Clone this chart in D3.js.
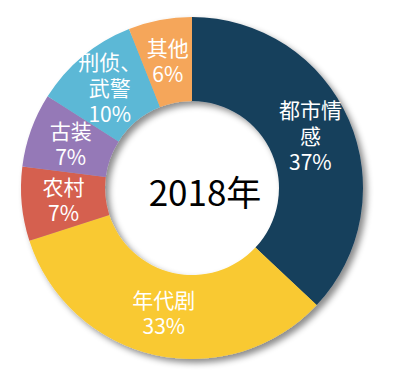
<!DOCTYPE html>
<html>
<head>
<meta charset="utf-8">
<script src="https://cdn.jsdelivr.net/npm/d3@7"></script>
<style>
  body { margin: 0; background: #fff; }
  text { font-family: "Noto Sans CJK SC", "Noto Sans", sans-serif; }
</style>
</head>
<body>
<div id="chart"></div>
<script>
const width = 417;
const height = 375;

// genres of 2018, clockwise from 12 o'clock
const categories = ["都市情感", "年代剧", "农村", "古装", "刑侦、武警", "其他"];
const labelLines = [["都市情", "感"], ["年代剧"], ["农村"], ["古装"], ["刑侦、", "武警"], ["其他"]];
const values = [37, 33, 7, 7, 10, 6];
const colors = ["#173f5b", "#f9c932", "#d5614f", "#9579b7", "#5bb8d6", "#f5a65a"];
const centerLabel = "2018年";

const cx = 192, cy = 188;
const outerR = 171, innerR = 87;

const svg = d3.select("#chart").append("svg")
  .attr("width", width)
  .attr("height", height);

// soft drop shadow to the bottom right
const defs = svg.append("defs");
const filter = defs.append("filter")
  .attr("id", "shadow")
  .attr("x", "-20%").attr("y", "-20%")
  .attr("width", "140%").attr("height", "140%");
filter.append("feDropShadow")
  .attr("dx", 4).attr("dy", 4)
  .attr("stdDeviation", 3)
  .attr("flood-color", "#000")
  .attr("flood-opacity", 0.45);

const data = categories.map((c, i) => ({ name: c, value: values[i], lines: labelLines[i], color: colors[i] }));

const pie = d3.pie()
  .value(d => d.value)
  .sort(null);

const arc = d3.arc()
  .innerRadius(innerR)
  .outerRadius(outerR);

const g = svg.append("g")
  .attr("transform", `translate(${cx},${cy})`);

const arcs = pie(data);

g.append("g")
  .attr("filter", "url(#shadow)")
  .selectAll("path")
  .data(arcs)
  .join("path")
  .attr("d", arc)
  .attr("fill", d => d.data.color);

// slice labels: name lines + percent, centred on the centroid
const lineH = 26;
const labels = g.selectAll(".label")
  .data(arcs)
  .join("text")
  .attr("class", "label")
  .attr("fill", "#fff")
  .attr("font-size", 21)
  .attr("text-anchor", "middle")
  .attr("transform", d => {
    const [x, y] = arc.centroid(d);
    return `translate(${x},${y})`;
  });

labels.each(function(d) {
  const lines = d.data.lines.concat([d.data.value + "%"]);
  const top = -(lines.length - 1) * lineH / 2;
  d3.select(this).selectAll("tspan")
    .data(lines)
    .join("tspan")
    .attr("x", 0)
    .attr("y", (l, i) => top + i * lineH)
    .attr("dy", "0.36em")
    .text(l => l);
});

g.append("text")
  .attr("x", 13)
  .attr("y", 5)
  .attr("dy", "0.36em")
  .attr("text-anchor", "middle")
  .attr("font-size", 35)
  .attr("fill", "#000")
  .text(centerLabel);
</script>
</body>
</html>
